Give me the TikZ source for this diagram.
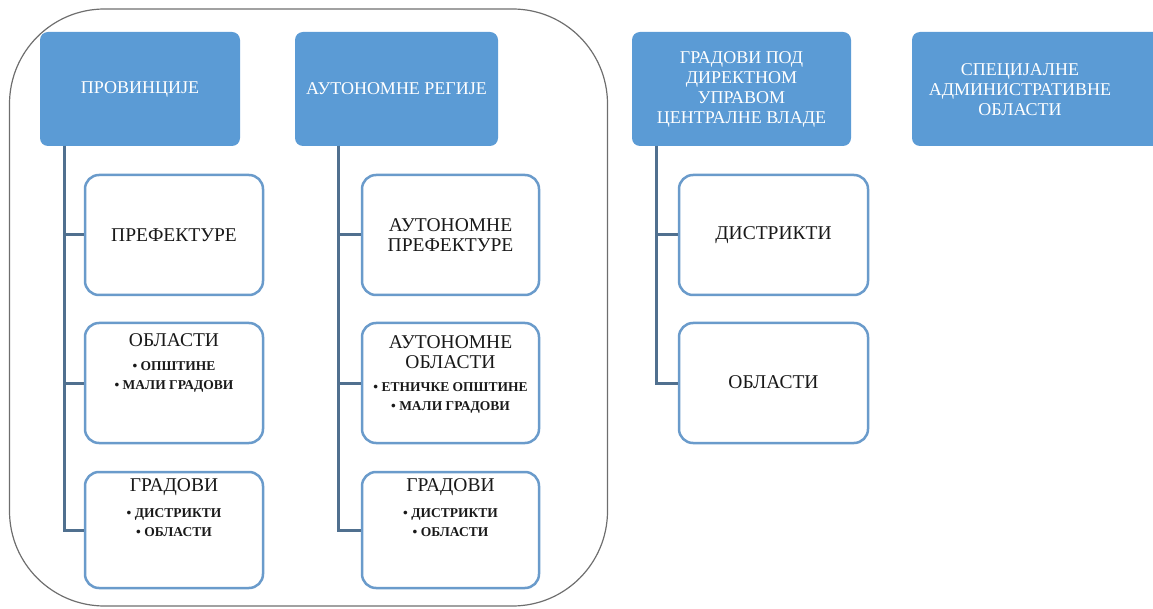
\documentclass[tikz,border=0pt]{standalone}
\usepackage{fontspec}
\setmainfont{Liberation Serif}
\definecolor{hdr}{HTML}{5B9BD5}
\definecolor{cbord}{HTML}{6A9BCB}
\definecolor{conn}{HTML}{50708F}
\definecolor{outl}{HTML}{6E6E6E}
\tikzset{
  hdrbox/.style={fill=hdr, draw=none, rounded corners=8pt, minimum height=114pt, inner sep=0pt},
  hdrtxt/.style={text=white, align=center, font=\fontsize{18}{20}\selectfont, inner sep=0pt},
  childbox/.style={draw=cbord, line width=2.5pt, fill=white, rounded corners=14pt, inner sep=0pt},
  ttl/.style={align=center, font=\fontsize{19.5}{20}\selectfont, inner sep=0pt, text=black!90},
  items/.style={align=center, font=\bfseries\fontsize{13.5}{19}\selectfont, inner sep=0pt, text=black!90},
  connline/.style={draw=conn, line width=3pt},
}
\begin{document}
\begin{tikzpicture}[x=1pt,y=-1pt]
\useasboundingbox (0,0) rectangle (1153,609);
\clip (0,0) rectangle (1153,609);
% outer outline
\node[draw=outl, line width=1.2pt, rounded corners=95pt, minimum width=598pt, minimum height=597pt, inner sep=0pt] (outer) at (308.5,307.5) {};
% headers
\node[hdrbox, minimum width=200pt] (h1) at (140,89) {};
\node[hdrbox, minimum width=203pt] (h2) at (396.5,89) {};
\node[hdrbox, minimum width=219pt] (h3) at (741.5,89) {};
\node[hdrbox, minimum width=250pt] (h4) at (1037,89) {};
\node[hdrtxt] (h1t) at (140,89) {ПРОВИНЦИЈЕ};
\node[hdrtxt] (h2t) at (396.5,89) {АУТОНОМНЕ РЕГИЈЕ};
\node[hdrtxt] (h3t) at (741.5,89) {ГРАДОВИ ПОД\\ДИРЕКТНОМ\\УПРАВОМ\\ЦЕНТРАЛНЕ ВЛАДЕ};
\node[hdrtxt] (h4t) at (1020,90) {СПЕЦИЈАЛНЕ\\АДМИНИСТРАТИВНЕ\\ОБЛАСТИ};
% trunk coordinates
\coordinate (t1) at (64,146);
\coordinate (t2) at (338,146);
\coordinate (t3) at (656,146);
% child boxes
\node[childbox, minimum width=178pt, minimum height=120pt] (c11) at (174,235) {};
\node[childbox, minimum width=178pt, minimum height=120pt] (c12) at (174,383) {};
\node[childbox, minimum width=178pt, minimum height=116pt] (c13) at (174,530) {};
\node[childbox, minimum width=177pt, minimum height=120pt] (c21) at (450.5,235) {};
\node[childbox, minimum width=177pt, minimum height=120pt] (c22) at (450.5,383) {};
\node[childbox, minimum width=177pt, minimum height=116pt] (c23) at (450.5,530) {};
\node[childbox, minimum width=189pt, minimum height=120pt] (c31) at (773.5,235) {};
\node[childbox, minimum width=189pt, minimum height=120pt] (c32) at (773.5,383) {};
% connectors
\draw[connline] (t1) |- (c11.west);
\draw[connline] (t1) |- (c12.west);
\draw[connline] (t1) |- (c13.west);
\draw[connline] (t2) |- (c21.west);
\draw[connline] (t2) |- (c22.west);
\draw[connline] (t2) |- (c23.west);
\draw[connline] (t3) |- (c31.west);
\draw[connline] (t3) |- (c32.west);
% texts
\node[ttl] (c11t) at (174,235) {ПРЕФЕКТУРЕ};
\node[ttl] (c12t) at (174,340) {ОБЛАСТИ};
\node[items] (c12i) at (174,376.5) {• ОПШТИНЕ\\• МАЛИ ГРАДОВИ};
\node[ttl] (c13t) at (174,487) {ГРАДОВИ};
\node[items] (c13i) at (174,522.5) {• ДИСТРИКТИ\\• ОБЛАСТИ};
\node[ttl] (c21t) at (450.5,235) {АУТОНОМНЕ\\ПРЕФЕКТУРЕ};
\node[ttl] (c22t) at (450.5,352) {АУТОНОМНЕ\\ОБЛАСТИ};
\node[items] (c22i) at (450.5,397.5) {• ЕТНИЧКЕ ОПШТИНЕ\\• МАЛИ ГРАДОВИ};
\node[ttl] (c23t) at (450.5,487) {ГРАДОВИ};
\node[items] (c23i) at (450.5,522.5) {• ДИСТРИКТИ\\• ОБЛАСТИ};
\node[ttl] (c31t) at (773.5,235) {ДИСТРИКТИ};
\node[ttl] (c32t) at (773.5,382) {ОБЛАСТИ};
\end{tikzpicture}
\end{document}
